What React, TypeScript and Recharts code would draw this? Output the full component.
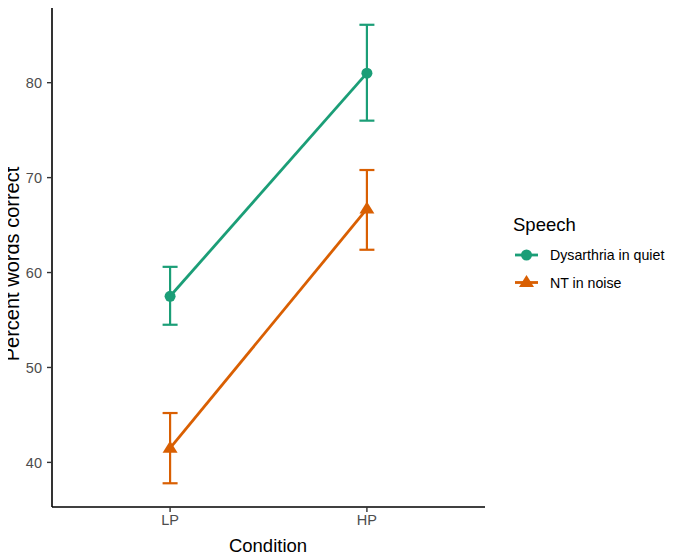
import React from 'react'
import { LineChart, Line, XAxis, YAxis, ErrorBar } from 'recharts'

const conditions = ['LP', 'HP']
const dysMean = [57.5, 81.0]
const dysLow = [54.5, 76.0]
const dysHigh = [60.6, 86.1]
const ntMean = [41.5, 66.7]
const ntLow = [37.8, 62.4]
const ntHigh = [45.2, 70.8]
const yTicks = [40, 50, 60, 70, 80]

const GREEN = '#1b9e77'
const ORANGE = '#d95f02'
const FONT = '"Liberation Sans", Arial, Helvetica, sans-serif'

const data = conditions.map((c, i) => ({
  x: i + 1,
  name: c,
  dys: dysMean[i],
  dysErr: [dysMean[i] - dysLow[i], dysHigh[i] - dysMean[i]],
  nt: ntMean[i],
  ntErr: [ntMean[i] - ntLow[i], ntHigh[i] - ntMean[i]],
}))

const CircleDot = (props: any) => {
  const { cx, cy, key } = props
  return <circle key={key} cx={cx} cy={cy} r={5.5} fill={GREEN} />
}

const TriangleDot = (props: any) => {
  const { cx, cy, key } = props
  return (
    <polygon
      key={key}
      points={`${cx},${cy - 7.5} ${cx - 7.5},${cy + 4.5} ${cx + 7.5},${cy + 4.5}`}
      fill={ORANGE}
    />
  )
}

export default function App() {
  return (
    <div style={{ position: 'relative', margin: '-8px 0 0 -8px', width: 676, height: 554, fontFamily: FONT }}>
      <LineChart
        width={676}
        height={554}
        data={data}
        margin={{ top: 2, right: 191, bottom: 0, left: 0 }}
      >
        <XAxis
          type="number"
          dataKey="x"
          domain={[0.4, 2.6]}
          ticks={[1, 2]}
          tickFormatter={(v: number) => conditions[v - 1]}
          height={47}
          axisLine={{ stroke: '#000', strokeWidth: 1.6 }}
          tickLine={{ stroke: '#333', strokeWidth: 1.4 }}
          tickSize={5}
          tickMargin={3}
          tick={{ fill: '#4d4d4d', fontSize: 14.5, fontFamily: FONT }}
          allowDataOverflow
        />
        <YAxis
          type="number"
          domain={[35.3, 88.5]}
          ticks={yTicks}
          width={52}
          axisLine={{ stroke: '#000', strokeWidth: 1.6 }}
          tickLine={{ stroke: '#333', strokeWidth: 1.4 }}
          tickSize={5}
          tickMargin={5}
          tick={{ fill: '#4d4d4d', fontSize: 14.5, fontFamily: FONT }}
          allowDataOverflow
        />
        <Line
          dataKey="dys"
          stroke={GREEN}
          strokeWidth={2.8}
          dot={CircleDot}
          activeDot={false}
          isAnimationActive={false}
        >
          <ErrorBar dataKey="dysErr" direction="y" width={7.5} stroke={GREEN} strokeWidth={2.2} />
        </Line>
        <Line
          dataKey="nt"
          stroke={ORANGE}
          strokeWidth={2.8}
          dot={TriangleDot}
          activeDot={false}
          isAnimationActive={false}
        >
          <ErrorBar dataKey="ntErr" direction="y" width={7.5} stroke={ORANGE} strokeWidth={2.2} />
        </Line>
      </LineChart>
      <svg
        width={676}
        height={554}
        style={{ position: 'absolute', left: 0, top: 0, pointerEvents: 'none' }}
      >
        <g transform="translate(19 264) rotate(-90)">
          <text x={0} y={0} textAnchor="middle" fontSize={20} fontFamily={FONT} fill="#000">
            Percent words correct
          </text>
        </g>
        <text
          x={268}
          y={545}
          textAnchor="middle"
          dominantBaseline="central"
          fontSize={18.5}
          fontFamily={FONT}
          fill="#000"
        >
          Condition
        </text>
        <text x={513} y={224} dominantBaseline="central" fontSize={18.5} fontFamily={FONT} fill="#000">
          Speech
        </text>
        <line x1={515} x2={538} y1={255} y2={255} stroke={GREEN} strokeWidth={2.8} />
        <circle cx={526.5} cy={255} r={5.5} fill={GREEN} />
        <text x={550} y={255} dominantBaseline="central" fontSize={14.2} fontFamily={FONT} fill="#000">
          Dysarthria in quiet
        </text>
        <line x1={515} x2={538} y1={282.5} y2={282.5} stroke={ORANGE} strokeWidth={2.8} />
        <polygon
          points={`526.5,${282.5 - 7.5} ${526.5 - 7.5},${282.5 + 4.5} ${526.5 + 7.5},${282.5 + 4.5}`}
          fill={ORANGE}
        />
        <text x={550} y={282.5} dominantBaseline="central" fontSize={14.2} fontFamily={FONT} fill="#000">
          NT in noise
        </text>
      </svg>
    </div>
  )
}
